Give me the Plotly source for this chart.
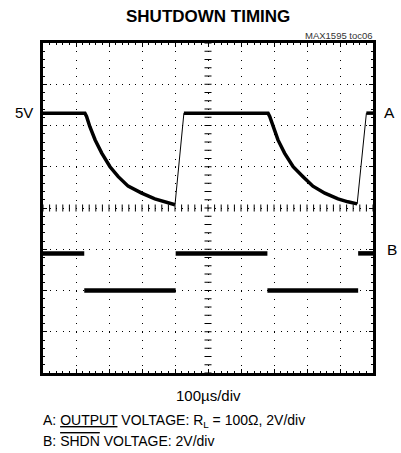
import plotly.graph_objects as go

# ---- data (divisions: x 0..10, y 0..8) ----
a_time = [0.00, 1.27, 1.32, 1.42, 1.58, 1.78, 2.03, 2.28, 2.58, 2.99, 3.39, 3.70, 4.00,
          4.27, 6.82, 6.87, 6.97, 7.12, 7.32, 7.58, 7.88, 8.18, 8.54, 8.94, 9.24, 9.52,
          9.80, 10.00]
a_level = [6.30, 6.30, 6.22, 5.97, 5.65, 5.33, 5.00, 4.76, 4.53, 4.36, 4.22, 4.15, 4.08,
           6.30, 6.30, 6.22, 5.97, 5.65, 5.33, 5.00, 4.76, 4.53, 4.36, 4.22, 4.15, 4.10,
           6.30, 6.30]

b_edges = [0.00, 1.25, 4.02, 6.80, 9.55, 10.00]
b_levels = [2.90, 2.00, 2.90, 2.00, 2.90]

x_range = [0, 10]
y_range = [0, 8]

# ---- build trace geometry from the data ----
# thick part of A: break the line where the fast rising edges are (drawn thin)
a_thick_x, a_thick_y = [], []
for i, (t, v) in enumerate(zip(a_time, a_level)):
    a_thick_x.append(t)
    a_thick_y.append(v)
    if i + 1 < len(a_time) and a_level[i + 1] - v > 1:
        a_thick_x.append(None)
        a_thick_y.append(None)

b_x, b_y = [], []
for i, lev in enumerate(b_levels):
    b_x += [b_edges[i], b_edges[i + 1], None]
    b_y += [lev, lev, None]

FONT = "Liberation Sans, Arial, sans-serif"

fig = go.Figure()

# centre graticule cross ticks
n_x = int(round((x_range[1] - x_range[0]) / 0.2))
n_y = int(round((y_range[1] - y_range[0]) / 0.2))
cx = (x_range[0] + x_range[1]) / 2
cy = (y_range[0] + y_range[1]) / 2
fig.add_trace(go.Scatter(
    x=[x_range[0] + 0.2 * k for k in range(n_x + 1)], y=[cy] * (n_x + 1),
    mode="markers", marker=dict(symbol="line-ns", size=5, line=dict(width=1, color="black")),
    hoverinfo="skip", showlegend=False))
fig.add_trace(go.Scatter(
    x=[cx] * (n_y + 1), y=[y_range[0] + 0.2 * k for k in range(n_y + 1)],
    mode="markers", marker=dict(symbol="line-ew", size=5, line=dict(width=1, color="black")),
    hoverinfo="skip", showlegend=False))

# channel A (thin full trace for the fast edges, thick for the rest)
fig.add_trace(go.Scatter(x=a_time, y=a_level, mode="lines",
                         line=dict(color="black", width=1), hoverinfo="skip", showlegend=False))
fig.add_trace(go.Scatter(x=a_thick_x, y=a_thick_y, mode="lines",
                         line=dict(color="black", width=3.5), hoverinfo="skip", showlegend=False))
# channel B
fig.add_trace(go.Scatter(x=b_x, y=b_y, mode="lines",
                         line=dict(color="black", width=4.5), hoverinfo="skip", showlegend=False))

axis_common = dict(
    showticklabels=False, showline=True, linewidth=3, linecolor="black", mirror="ticks",
    ticks="inside", ticklen=4, tickcolor="black", tickwidth=1,
    minor=dict(ticks="inside", dtick=0.2, ticklen=2, tickcolor="black", tickwidth=1),
    showgrid=True, gridcolor="black", gridwidth=1, zeroline=False, dtick=1, fixedrange=True,
)
fig.update_xaxes(range=x_range, griddash="1px,7.25px", **axis_common)
fig.update_yaxes(range=y_range, griddash="1px,5.6px", **axis_common)


def px2paper(px, py):
    return (px - 43) / 330.0, (373 - py) / 330.0


def add_text(text, px, py, xanchor, size, family=FONT, color="black"):
    xp, yp = px2paper(px, py)
    fig.add_annotation(text=text, x=xp, y=yp, xref="paper", yref="paper",
                       xanchor=xanchor, yanchor="middle", showarrow=False,
                       font=dict(family=family, size=size, color=color))


add_text("<b>SHUTDOWN TIMING</b>", 208, 17, "center", 17)
add_text("MAX1595 toc06", 375, 35, "right", 9.5, color="#333333")
add_text("5V", 35, 112, "right", 15)
add_text("A", 382, 112, "left", 15.5)
add_text("B", 385, 250, "left", 15.5)
add_text("100µs/div", 208, 395, "center", 15)
add_text("A: <span style='text-decoration:underline'>OUTPUT</span> VOLTAGE: R<sub>L</sub> = 100Ω, 2V/div",
         41, 421, "left", 14)
add_text("B: <span style='text-decoration:overline'>SHDN</span> VOLTAGE: 2V/div",
         41, 441, "left", 14)

fig.update_layout(
    width=401, height=453,
    margin=dict(l=43, r=28, t=43, b=80),
    paper_bgcolor="white", plot_bgcolor="white",
    showlegend=False,
)

fig.write_html("out.html", config={"displayModeBar": False, "staticPlot": True},
               post_script="document.body.style.margin='0';")
